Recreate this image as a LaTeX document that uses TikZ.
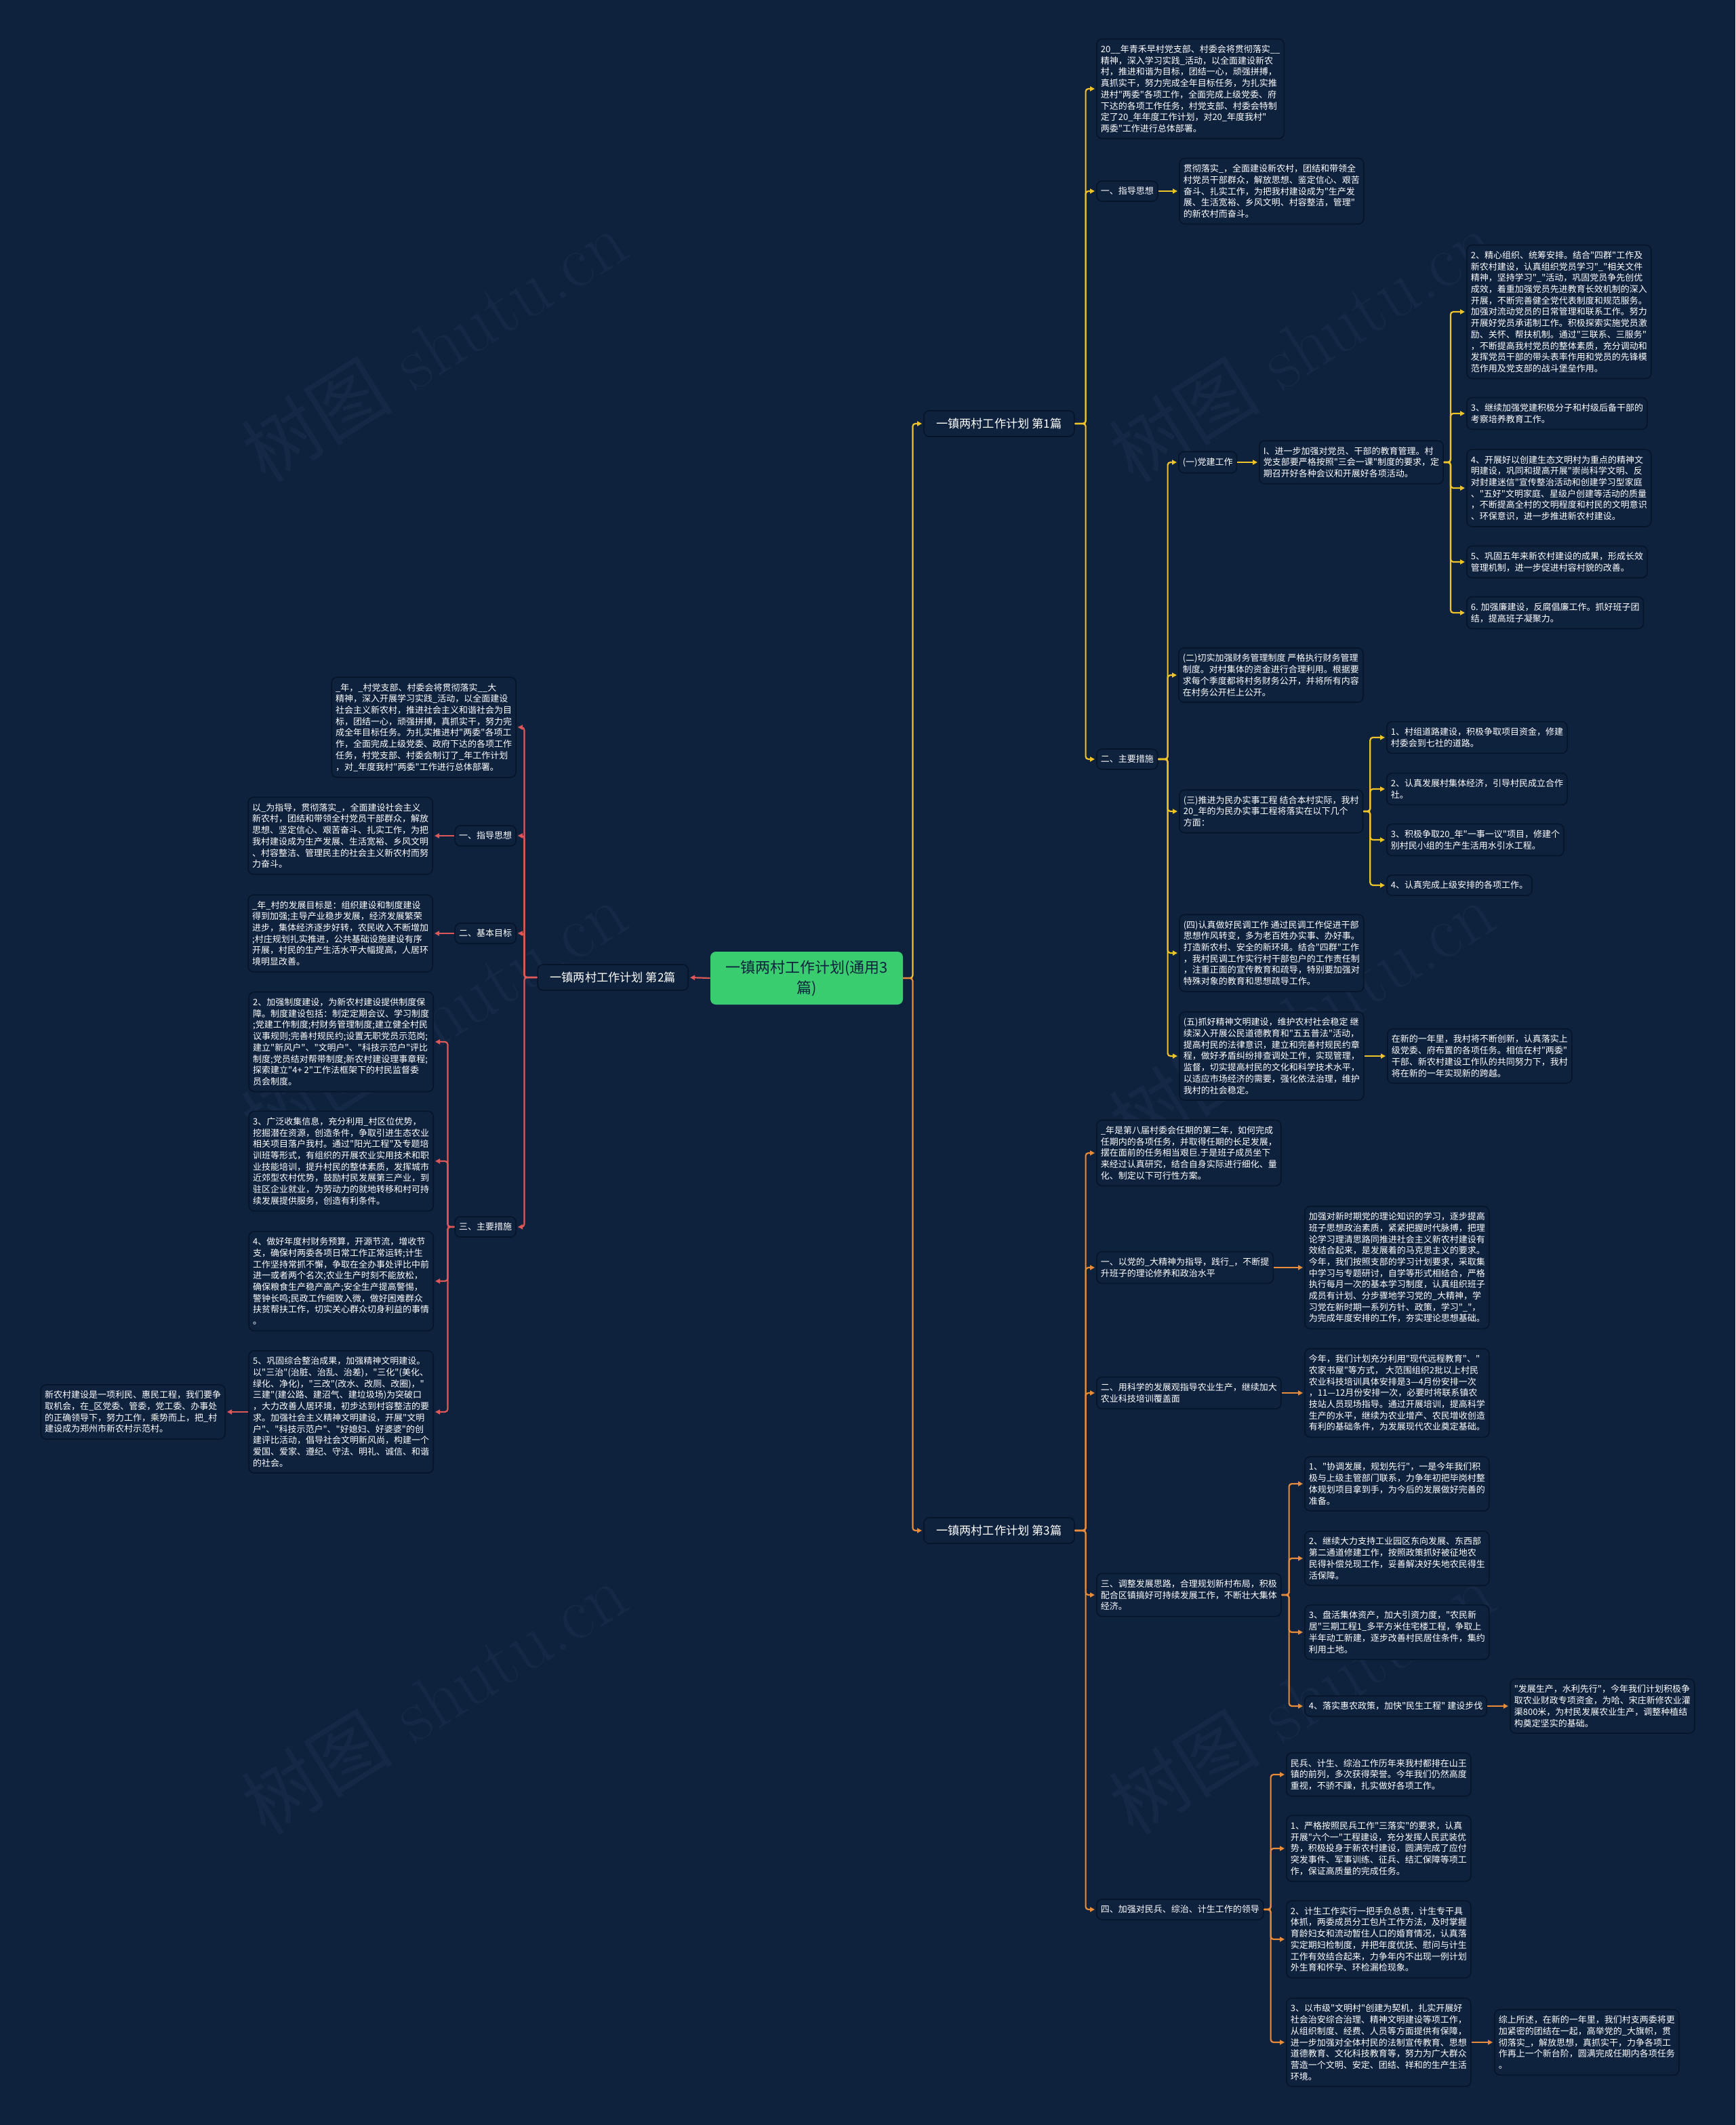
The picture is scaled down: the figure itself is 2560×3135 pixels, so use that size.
\documentclass[tikz,border=0pt]{standalone}
\usepackage{fontspec}
\newfontfamily\cjk{Noto Sans CJK SC}
\usetikzlibrary{arrows.meta}
\definecolor{bgnavy}{RGB}{14,34,62}
\definecolor{boxline}{RGB}{6,20,42}
\definecolor{ylw}{RGB}{240,196,40}
\definecolor{org}{RGB}{232,140,58}
\definecolor{rdd}{RGB}{222,88,88}
\definecolor{grn}{RGB}{58,205,112}
\definecolor{wmark}{RGB}{21,41,70}

\begin{document}
\begin{tikzpicture}[x=0.5pt,y=-0.5pt,
  every node/.style={font=\cjk},
  txt/.style={draw=boxline,fill=bgnavy,rounded corners=4pt,line width=0.8pt,text=white,
    align=left,inner xsep=3pt,inner ysep=4.5pt,font=\cjk\fontsize{6.5}{8.35}\selectfont},
  topic/.style={txt,align=center,font=\cjk\fontsize{8.6}{10}\selectfont,
    minimum height=19pt,minimum width=111pt,inner xsep=6pt},
  root/.style={fill=grn,rounded corners=4pt,text=bgnavy,align=center,
    minimum width=142pt,minimum height=39pt,font=\cjk\fontsize{11}{15}\selectfont},
  link/.style={line width=1.1pt,rounded corners=2pt,
    -{Triangle[length=3.5pt,width=3.5pt]},shorten >=1pt},
  ylink/.style={link,draw=ylw},
  olink/.style={link,draw=org},
  rlink/.style={link,draw=rdd}]

\fill[bgnavy] (0,0) rectangle (2560,3135);
\useasboundingbox (0,0) rectangle (2560,3135);

% watermark
\foreach \wx/\wy [count=\i] in {640/510,1920/510,640/1500,1920/1500,640/2505,1920/2505}
  \node[rotate=32,text=wmark,font=\fontsize{56}{56}\selectfont] (wm\i) at (\wx,\wy) {{\cjk 树图} shutu.cn};

\node[root] (root) at (1190,1443) {一镇两村工作计划(通用3\\篇)};
\node[topic,anchor=west] (p1) at (1362,625) {一镇两村工作计划 第1篇};
\node[topic,anchor=east] (p2) at (1016,1442) {一镇两村工作计划 第2篇};
\node[topic,anchor=west] (p3) at (1362,2258) {一镇两村工作计划 第3篇};

% part 1
\node[txt,anchor=west] (p1intro) at (1617,131) {20\_\_年青禾早村党支部、村委会将贯彻落实\_\_\\精神，深入学习实践\_活动，以全面建设新农\\村，推进和谐为目标，团结一心，顽强拼搏，\\真抓实干，努力完成全年目标任务，为扎实推\\进村"两委"各项工作，全面完成上级党委、府\\下达的各项工作任务，村党支部、村委会特制\\定了20\_年年度工作计划，对20\_年度我村"\\两委"工作进行总体部署。};
\node[txt,anchor=west] (p1guide) at (1617,282) {一、指导思想};
\node[txt,anchor=west] (p1guidetxt) at (1739,282) {贯彻落实\_，全面建设新农村，团结和带领全\\村党员干部群众，解放思想、鉴定信心、艰苦\\奋斗、扎实工作，为把我村建设成为"生产发\\展、生活宽裕、乡风文明、村容整洁，管理"\\的新农村而奋斗。};
\node[txt,anchor=west] (p1steps) at (1617,1120) {二、主要措施};
\node[txt,anchor=west] (party) at (1738,682) {(一)党建工作};
\node[txt,anchor=west] (partyI) at (1857,682) {I、进一步加强对党员、干部的教育管理。村\\党支部要严格按照"三会一课"制度的要求，定\\期召开好各种会议和开展好各项活动。};
\node[txt,anchor=west] (party2) at (2163,460) {2、精心组织、统筹安排。结合"四群"工作及\\新农村建设，认真组织党员学习"\_"相关文件\\精神，坚持学习"\_"活动，巩固党员争先创优\\成效，着重加强党员先进教育长效机制的深入\\开展，不断完善健全党代表制度和规范服务。\\加强对流动党员的日常管理和联系工作。努力\\开展好党员承诺制工作。积极探索实施党员激\\励、关怀、帮扶机制。通过"三联系、三服务"\\，不断提高我村党员的整体素质，充分调动和\\发挥党员干部的带头表率作用和党员的先锋模\\范作用及党支部的战斗堡垒作用。};
\node[txt,anchor=west] (party3) at (2163,610) {3、继续加强党建积极分子和村级后备干部的\\考察培养教育工作。};
\node[txt,anchor=west] (party4) at (2163,720) {4、开展好以创建生态文明村为重点的精神文\\明建设，巩同和提高开展"崇尚科学文明、反\\对封建迷信"宣传整治活动和创建学习型家庭\\、"五好"文明家庭、星级户创建等活动的质量\\，不断提高全村的文明程度和村民的文明意识\\、环保意识，进一步推进新农村建设。};
\node[txt,anchor=west] (party5) at (2163,829) {5、巩固五年来新农村建设的成果，形成长效\\管理机制，进一步促进村容村貌的改善。};
\node[txt,anchor=west] (party6) at (2163,904) {6. 加强廉建设，反腐倡廉工作。抓好班子团\\结，提高班子凝聚力。};
\node[txt,anchor=west] (finance) at (1738,996) {(二)切实加强财务管理制度 严格执行财务管理\\制度。对村集体的资金进行合理利用。根据要\\求每个季度都将村务财务公开，并将所有内容\\在村务公开栏上公开。};
\node[txt,anchor=west] (deeds) at (1739,1197) {(三)推进为民办实事工程 结合本村实际，我村\\20\_年的为民办实事工程将落实在以下几个\\方面：};
\node[txt,anchor=west] (deeds1) at (2045,1088) {1、村组道路建设，积极争取项目资金，修建\\村委会到七社的道路。};
\node[txt,anchor=west] (deeds2) at (2045,1164) {2、认真发展村集体经济，引导村民成立合作\\社。};
\node[txt,anchor=west] (deeds3) at (2045,1239) {3、积极争取20\_年"一事一议"项目，修建个\\别村民小组的生产生活用水引水工程。};
\node[txt,anchor=west] (deeds4) at (2045,1306) {4、认真完成上级安排的各项工作。};
\node[txt,anchor=west] (mediate) at (1739,1406) {(四)认真做好民调工作 通过民调工作促进干部\\思想作风转变，多为老百姓办实事、办好事。\\打造新农村、安全的新环境。结合"四群"工作\\，我村民调工作实行村干部包户的工作责任制\\，注重正面的宣传教育和疏导，特别要加强对\\特殊对象的教育和思想疏导工作。};
\node[txt,anchor=west] (civil) at (1739,1558) {(五)抓好精神文明建设，维护农村社会稳定 继\\续深入开展公民道德教育和"五五普法"活动，\\提高村民的法律意识，建立和完善村规民约章\\程，做好矛盾纠纷排查调处工作，实现管理，\\监督，切实提高村民的文化和科学技术水平，\\以适应市场经济的需要，强化依法治理，维护\\我村的社会稳定。};
\node[txt,anchor=west] (civilend) at (2046,1558) {在新的一年里，我村将不断创新，认真落实上\\级党委、府布置的各项任务。相信在村"两委"\\干部、新农村建设工作队的共同努力下，我村\\将在新的一年实现新的跨越。};

% part 2
\node[txt,anchor=east] (p2intro) at (762,1073) {\_年，\_村党支部、村委会将贯彻落实\_\_大\\精神，深入开展学习实践\_活动，以全面建设\\社会主义新农村，推进社会主义和谐社会为目\\标，团结一心，顽强拼搏，真抓实干，努力完\\成全年目标任务。为扎实推进村"两委"各项工\\作，全面完成上级党委、政府下达的各项工作\\任务，村党支部、村委会制订了\_年工作计划\\，对\_年度我村"两委"工作进行总体部署。};
\node[txt,anchor=east] (p2guide) at (762,1233) {一、指导思想};
\node[txt,anchor=east] (p2guidetxt) at (639,1233) {以\_为指导，贯彻落实\_，全面建设社会主义\\新农村，团结和带领全村党员干部群众，解放\\思想、坚定信心、艰苦奋斗、扎实工作，为把\\我村建设成为生产发展、生活宽裕、乡风文明\\、村容整洁、管理民主的社会主义新农村而努\\力奋斗。};
\node[txt,anchor=east] (p2goal) at (762,1377) {二、基本目标};
\node[txt,anchor=east] (p2goaltxt) at (639,1377) {\_年\_村的发展目标是：组织建设和制度建设\\得到加强;主导产业稳步发展，经济发展繁荣\\进步，集体经济逐步好转，农民收入不断增加\\;村庄规划扎实推进，公共基础设施建设有序\\开展，村民的生产生活水平大幅提高，人居环\\境明显改善。};
\node[txt,anchor=east] (p2steps) at (762,1810) {三、主要措施};
\node[txt,anchor=east] (step2) at (640,1537) {2、加强制度建设，为新农村建设提供制度保\\障。制度建设包括：制定定期会议、学习制度\\;党建工作制度;村财务管理制度;建立健全村民\\议事规则;完善村规民约;设置无职党员示范岗;\\建立"新风户"、"文明户"、"科技示范户"评比\\制度;党员结对帮带制度;新农村建设理事章程;\\探索建立"4+ 2"工作法框架下的村民监督委\\员会制度。};
\node[txt,anchor=east] (step3) at (640,1713) {3、广泛收集信息，充分利用\_村区位优势，\\挖掘潜在资源，创造条件，争取引进生态农业\\相关项目落户我村。通过"阳光工程"及专题培\\训班等形式，有组织的开展农业实用技术和职\\业技能培训，提升村民的整体素质，发挥城市\\近郊型农村优势，鼓励村民发展第三产业，到\\驻区企业就业，为劳动力的就地转移和村可持\\续发展提供服务，创造有利条件。};
\node[txt,anchor=east] (step4) at (640,1890) {4、做好年度村财务预算，开源节流，增收节\\支，确保村两委各项日常工作正常运转;计生\\工作坚持常抓不懈，争取在全办事处评比中前\\进一或者两个名次;农业生产时刻不能放松，\\确保粮食生产稳产高产;安全生产提高警惕，\\警钟长鸣;民政工作细致入微，做好困难群众\\扶贫帮扶工作，切实关心群众切身利益的事情\\。};
\node[txt,anchor=east] (step5) at (640,2083) {5、巩固综合整治成果，加强精神文明建设。\\以"三治"(治脏、治乱、治差)，"三化"(美化、\\绿化、净化)，"三改"(改水、改厕、改圈)，"\\三建"(建公路、建沼气、建垃圾场)为突破口\\，大力改善人居环境，初步达到村容整洁的要\\求。加强社会主义精神文明建设，开展"文明\\户"、"科技示范户"、"好媳妇、好婆婆"的创\\建评比活动，倡导社会文明新风尚，构建一个\\爱国、爱家、遵纪、守法、明礼、诚信、和谐\\的社会。};
\node[txt,anchor=east] (closing2) at (333,2083) {新农村建设是一项利民、惠民工程，我们要争\\取机会，在\_区党委、管委，党工委、办事处\\的正确领导下，努力工作，乘势而上，把\_村\\建设成为郑州市新农村示范村。};

% part 3
\node[txt,anchor=west] (p3intro) at (1617,1701) {\_年是第八届村委会任期的第二年，如何完成\\任期内的各项任务，并取得任期的长足发展，\\摆在面前的任务相当艰巨.于是班子成员坐下\\来经过认真研究，结合自身实际进行细化、量\\化、制定以下可行性方案。};
\node[txt,anchor=west] (theory) at (1617,1870) {一、以党的\_大精神为指导，践行\_，不断提\\升班子的理论修养和政治水平};
\node[txt,anchor=west] (theorytxt) at (1924,1870) {加强对新时期党的理论知识的学习，逐步提高\\班子思想政治素质，紧紧把握时代脉搏，把理\\论学习理清思路同推进社会主义新农村建设有\\效结合起来，是发展着的马克思主义的要求。\\今年，我们按照支部的学习计划要求，采取集\\中学习与专题研讨，自学等形式相结合，严格\\执行每月一次的基本学习制度，认真组织班子\\成员有计划、分步骤地学习党的\_大精神，学\\习党在新时期一系列方针、政策，学习"\_"，\\为完成年度安排的工作，夯实理论思想基础。};
\node[txt,anchor=west] (farm) at (1617,2055) {二、用科学的发展观指导农业生产，继续加大\\农业科技培训覆盖面};
\node[txt,anchor=west] (farmtxt) at (1924,2055) {今年，我们计划充分利用"现代远程教育"、"\\农家书屋"等方式， 大范围组织2批以上村民\\农业科技培训具体安排是3—4月份安排一次\\，11—12月份安排一次，必要时将联系镇农\\技站人员现场指导。通过开展培训，提高科学\\生产的水平，继续为农业增产、农民增收创造\\有利的基础条件，为发展现代农业奠定基础。};
\node[txt,anchor=west] (layout) at (1617,2353) {三、调整发展思路，合理规划新村布局，积极\\配合区镇搞好可持续发展工作，不断壮大集体\\经济。};
\node[txt,anchor=west] (layout1) at (1924,2189) {1、"协调发展，规划先行"，一是今年我们积\\极与上级主管部门联系，力争年初把毕岗村整\\体规划项目拿到手，为今后的发展做好完善的\\准备。};
\node[txt,anchor=west] (layout2) at (1924,2299) {2、继续大力支持工业园区东向发展、东西部\\第二通道修建工作，按照政策抓好被征地农\\民得补偿兑现工作，妥善解决好失地农民得生\\活保障。};
\node[txt,anchor=west] (layout3) at (1924,2408) {3、盘活集体资产，加大引资力度，"农民新\\居"三期工程1\_多平方米住宅楼工程，争取上\\半年动工新建，逐步改善村民居住条件，集约\\利用土地。};
\node[txt,anchor=west] (layout4) at (1924,2517) {4、落实惠农政策，加快"民生工程" 建设步伐};
\node[txt,anchor=west] (layout4txt) at (2227,2517) {"发展生产，水利先行"，今年我们计划积极争\\取农业财政专项资金，为哈、宋庄新修农业灌\\渠800米，为村民发展农业生产，调整种植结\\构奠定坚实的基础。};
\node[txt,anchor=west] (militia) at (1617,2817) {四、加强对民兵、综治、计生工作的领导};
\node[txt,anchor=west] (militia0) at (1897,2618) {民兵、计生、综治工作历年来我村都排在山王\\镇的前列，多次获得荣誉。今年我们仍然高度\\重视，不骄不躁，扎实做好各项工作。};
\node[txt,anchor=west] (militia1) at (1897,2727) {1、严格按照民兵工作"三落实"的要求，认真\\开展"六个一"工程建设，充分发挥人民武装优\\势，积极投身于新农村建设，圆满完成了应付\\突发事件、军事训练、征兵、结汇保障等项工\\作，保证高质量的完成任务。};
\node[txt,anchor=west] (militia2) at (1897,2861) {2、计生工作实行一把手负总责，计生专干具\\体抓，两委成员分工包片工作方法，及时掌握\\育龄妇女和流动暂住人口的婚育情况，认真落\\实定期妇检制度，并把年度优抚、慰问与计生\\工作有效结合起来，力争年内不出现一例计划\\外生育和怀孕、环检漏检现象。};
\node[txt,anchor=west] (militia3) at (1897,3013) {3、以市级"文明村"创建为契机，扎实开展好\\社会治安综合治理、精神文明建设等项工作，\\从组织制度、经费、人员等方面提供有保障，\\进一步加强对全体村民的法制宣传教育、思想\\道德教育、文化科技教育等，努力为广大群众\\营造一个文明、安定、团结、祥和的生产生活\\环境。};
\node[txt,anchor=west] (militiaend) at (2204,3013) {综上所述，在新的一年里，我们村支两委将更\\加紧密的团结在一起，高举党的\_大旗帜，贯\\彻落实\_，解放思想，真抓实干，力争各项工\\作再上一个新台阶，圆满完成任期内各项任务\\。};

% connectors
\draw[ylink] (root.east) -- ++(14,0) |- (p1.west);
\draw[olink] (root.east) -- ++(14,0) |- (p3.west);
\draw[rlink] (root.west) -- (p2.east);

\foreach \n in {p1intro,p1guide,p1steps}
  \draw[ylink] (p1.east) -- ++(16,0) |- (\n.west);
\draw[ylink] (p1guide.east) -- (p1guidetxt.west);
\foreach \n in {party,finance,deeds,mediate,civil}
  \draw[ylink] (p1steps.east) -- ++(14,0) |- (\n.west);
\draw[ylink] (party.east) -- (partyI.west);
\foreach \n in {party2,party3,party4,party5,party6}
  \draw[ylink] (partyI.east) -- ++(10,0) |- (\n.west);
\foreach \n in {deeds1,deeds2,deeds3,deeds4}
  \draw[ylink] (deeds.east) -- ++(10,0) |- (\n.west);
\draw[ylink] (civil.east) -- (civilend.west);

\foreach \n in {p2intro,p2guide,p2goal,p2steps}
  \draw[rlink] (p2.west) -- ++(-19,0) |- (\n.east);
\draw[rlink] (p2guide.west) -- (p2guidetxt.east);
\draw[rlink] (p2goal.west) -- (p2goaltxt.east);
\foreach \n in {step2,step3,step4,step5}
  \draw[rlink] (p2steps.west) -- ++(-10,0) |- (\n.east);
\draw[rlink] (step5.west) -- (closing2.east);

\foreach \n in {p3intro,theory,farm,layout,militia}
  \draw[olink] (p3.east) -- ++(16,0) |- (\n.west);
\draw[olink] (theory.east) -- (theorytxt.west);
\draw[olink] (farm.east) -- (farmtxt.west);
\foreach \n in {layout1,layout2,layout3,layout4}
  \draw[olink] (layout.east) -- ++(11,0) |- (\n.west);
\draw[olink] (layout4.east) -- (layout4txt.west);
\foreach \n in {militia0,militia1,militia2,militia3}
  \draw[olink] (militia.east) -- ++(10,0) |- (\n.west);
\draw[olink] (militia3.east) -- (militiaend.west);
\end{tikzpicture}
\end{document}
